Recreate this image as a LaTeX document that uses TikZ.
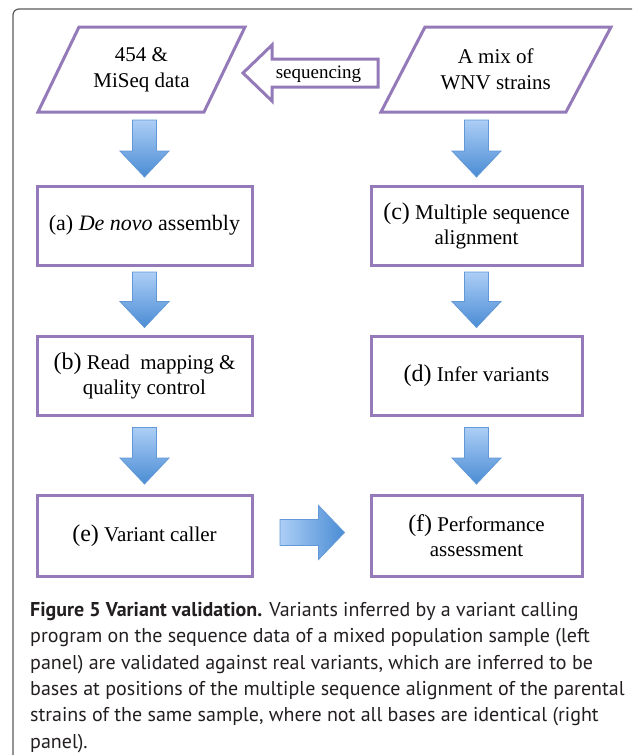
\documentclass[tikz,border=0pt]{standalone}
\usepackage{fontspec}
\setmainfont{Liberation Serif}
\newfontfamily\capfont{PT Sans}
\usetikzlibrary{calc}
\definecolor{purp}{RGB}{148,122,184}
\definecolor{bluA}{RGB}{172,206,246}
\definecolor{bluB}{RGB}{74,140,212}
\definecolor{bluE}{RGB}{98,152,214}
\definecolor{frameC}{RGB}{90,90,90}
\definecolor{capC}{RGB}{35,31,32}
\newcommand\lbl[1]{{\fontsize{24}{25}\selectfont(#1)}}
\newcommand\vblock[2]{\shadedraw[varrow] let \p1=(#1), \p2=(#2) in
  (\x2-12pt,\y1) -- (\x2+12pt,\y1) -- (\x2+12pt,\y2+26pt) -- (\x2+24.5pt,\y2+26pt)
  -- (\x2,\y2) -- (\x2-24.5pt,\y2+26pt) -- (\x2-12pt,\y2+26pt) -- cycle;}
\newcommand\hblock[2]{\shadedraw[harrow] let \p1=(#1), \p2=(#2) in
  (\x1,\y1+13pt) -- (\x2-26pt,\y1+13pt) -- (\x2-26pt,\y1+27pt) -- (\x2,\y1)
  -- (\x2-26pt,\y1-27pt) -- (\x2-26pt,\y1-13pt) -- (\x1,\y1-13pt) -- cycle;}
\begin{document}
\begin{tikzpicture}[x=1pt,y=-1pt,
  boxnode/.style={draw=purp, line width=3pt, fill=white, minimum width=215pt,
    minimum height=79pt, inner sep=0pt, align=center, font=\fontsize{21}{25}\selectfont},
  paratext/.style={inner sep=0pt, align=center, font=\fontsize{21}{26}\selectfont},
  parashape/.style={draw=purp, line width=3pt, fill=white},
  varrow/.style={top color=bluA, bottom color=bluB, draw=bluE, line width=0.8pt},
  harrow/.style={left color=bluA, right color=bluB, draw=bluE, line width=0.8pt},
  capstyle/.style={anchor=base west, inner sep=0pt, text=capC,
    font=\capfont\fontsize{20}{24}\selectfont}]
\useasboundingbox (0,0) rectangle (632,755);
\clip (0,0) rectangle (632,755);
\draw[frameC, line width=1.2pt, rounded corners=6pt] (13,800) -- (13,9) -- (700,9);

% parallelograms
\coordinate (p1c) at (141.5,69.5);
\coordinate (p2c) at (495.75,69.5);
\draw[parashape] ($(p1c)+(-62.5,-42.5)$) -- ($(p1c)+(103.5,-42.5)$) -- ($(p1c)+(62.5,42.5)$) -- ($(p1c)+(-103.5,42.5)$) -- cycle;
\draw[parashape] ($(p2c)+(-70.75,-42.5)$) -- ($(p2c)+(115.25,-42.5)$) -- ($(p2c)+(70.25,42.5)$) -- ($(p2c)+(-114.75,42.5)$) -- cycle;
\node[paratext] (p1) at (p1c) {454 \&\\MiSeq data};
\node[paratext] (p2) at (p2c) {A mix of\\WNV strains};
\coordinate (p1b) at ($(p1c)+(0,42.5)$);
\coordinate (p2b) at ($(p2c)+(0,42.5)$);

% sequencing arrow
\draw[parashape] (378,59) -- (272,59) -- (272,45) -- (243,73) -- (272,101) -- (272,87) -- (378,87) -- cycle;
\node[inner sep=0pt, font=\fontsize{19}{22}\selectfont] (seq) at (318.5,74) {sequencing};

% boxes
\node[boxnode] (a) at (144.5,225.5) {{\fontsize{22}{25}\selectfont(a) \textit{De novo} assembly}};
\node[boxnode] (b) at (144.5,375.5) {\lbl{b} Read~ mapping \&\\quality control};
\node[boxnode, minimum height=81pt] (e) at (144.5,535.5) {\lbl{e} Variant caller};
\node[boxnode, minimum width=211pt] (c) at (476.5,225.5) {\lbl{c} Multiple sequence\\alignment};
\node[boxnode, minimum width=211pt] (d) at (476.5,375.5) {\lbl{d} Infer variants};
\node[boxnode, minimum width=211pt, minimum height=81pt] (f) at (476.5,535.5) {\lbl{f} Performance\\assessment};

% block arrows
\vblock{$(p1b)+(0,8)$}{$(a.north)+(0,-7.5)$}
\vblock{$(a.south)+(0,5.5)$}{$(b.north)+(0,-7)$}
\vblock{$(b.south)+(0,11)$}{$(e.north)+(0,-9.5)$}
\vblock{$(p2b)+(0,8)$}{$(c.north)+(0,-7.5)$}
\vblock{$(c.south)+(0,5.5)$}{$(d.north)+(0,-7)$}
\vblock{$(d.south)+(0,11)$}{$(f.north)+(0,-9.5)$}
\hblock{$(e.east)+(26.5,-3)$}{$(f.west)+(-25,-3)$}

% caption
\node[capstyle] (cap1) at (30,616.5) {\textbf{Figure 5 Variant validation.} Variants inferred by a variant calling};
\node[capstyle] (cap2) at (30,642.8) {program on the sequence data of a mixed population sample (left};
\node[capstyle] (cap3) at (30,669.1) {panel) are validated against real variants, which are inferred to be};
\node[capstyle] (cap4) at (30,695.4) {bases at positions of the multiple sequence alignment of the parental};
\node[capstyle] (cap5) at (30,721.7) {strains of the same sample, where not all bases are identical (right};
\node[capstyle] (cap6) at (30,748) {panel).};
\end{tikzpicture}
\end{document}
